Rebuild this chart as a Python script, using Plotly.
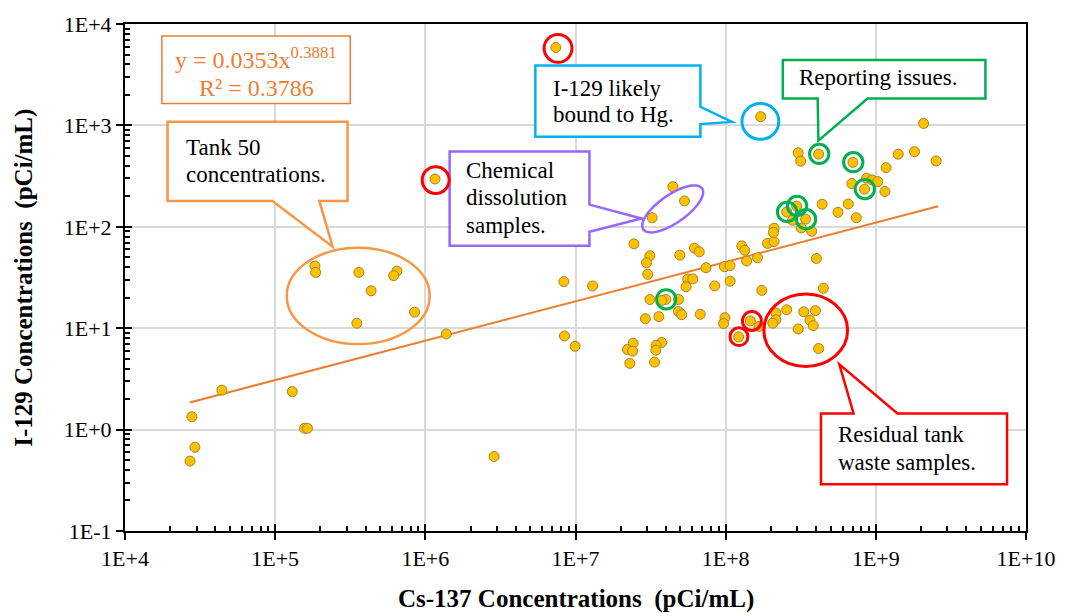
import numpy as np
import plotly.graph_objects as go

# Cs-137 vs I-129 sample concentrations (pCi/mL)
cs137 = [2.79e4, 2.92e4, 2.71e4, 1.57e5, 1.64e5, 4.42e4, 1.30e5, 1.84e5, 1.86e5, 3.61e5,
         3.50e5, 6.47e5, 6.15e5, 4.35e5, 8.48e5, 1.38e6, 8.36e6, 1.30e7, 8.44e6, 9.94e6,
         2.45e7, 3.13e7, 2.97e7, 3.03e7, 4.95e7, 6.20e7, 6.67e7, 7.40e7, 5.60e7, 6.04e7,
         5.45e7, 8.45e7, 3.13e7, 4.00e7, 3.76e7, 4.85e7, 4.85e7, 5.10e7, 6.77e7, 2.92e7,
         3.59e7, 2.42e7, 2.22e7, 2.40e7, 3.75e7, 3.44e7, 3.43e7, 2.30e7, 3.36e7, 4.45e7,
         5.32e7, 3.24e7, 7.40e6, 1.16e6, 2.87e6, 9.80e7, 1.07e8, 1.07e8, 1.74e8, 9.89e7,
         9.69e7, 1.28e8, 1.34e8, 1.38e8, 1.63e8, 1.90e8, 2.10e8, 2.10e8, 2.08e8, 1.46e8,
         1.22e8, 1.67e8, 2.16e8, 2.16e8, 2.06e8, 2.55e8, 3.31e8, 3.96e8, 3.64e8, 3.83e8,
         3.04e8, 4.16e8, 4.02e8, 4.47e8, 3.74e8, 2.55e8, 2.97e8, 2.79e8, 3.41e8, 3.19e8,
         4.39e8, 5.60e8, 6.55e8, 7.41e8, 6.92e8, 8.67e8, 9.46e8, 1.03e9, 8.41e8, 1.15e9,
         1.17e9, 7.04e8, 3.04e8, 3.16e8, 4.16e8, 1.41e9, 1.81e9, 2.08e9, 2.52e9, 1.71e8]
i129 = [1.34, 0.670, 0.489, 1.03, 1.03, 2.45, 2.37, 41.0, 35.5, 35.5,
        11.2, 36.6, 33.0, 23.4, 14.4, 8.77, 28.8, 26.1, 8.38, 6.64,
        67.9, 51.8, 44.2, 34.0, 52.6, 61.6, 56.7, 39.5, 30.6, 30.6,
        25.6, 26.1, 19.2, 19.2, 18.8, 19.2, 14.6, 13.6, 13.7, 12.4,
        13.0, 7.11, 6.17, 5.94, 7.22, 6.80, 6.07, 4.50, 4.63, 249,
        180, 123, 5870, 296, 0.543, 40.4, 41.5, 29.1, 23.6, 12.7,
        11.1, 64.9, 58.6, 46.0, 49.5, 68.6, 71.5, 96.7, 88.0, 11.8,
        8.20, 10.4, 14.1, 12.1, 11.2, 15.2, 14.5, 14.9, 12.0, 10.6,
        9.82, 6.31, 48.7, 24.8, 90.4, 140, 160, 116, 119, 97.4,
        167, 139, 168, 123, 267, 302, 289, 279, 235, 223,
        383, 432, 537, 444, 521, 520, 550, 1045, 446, 1218]

# Power-law fit y = a * x^b
fit_a = 0.0353
fit_b = 0.3881
fit_r2 = 0.3786
fit_x_start = 2.7e4
fit_x_end = 2.6e9

x_tickvals = [1e4, 1e5, 1e6, 1e7, 1e8, 1e9, 1e10]
x_ticktext = ["1E+4", "1E+5", "1E+6", "1E+7", "1E+8", "1E+9", "1E+10"]
y_tickvals = [1e-1, 1e0, 1e1, 1e2, 1e3, 1e4]
y_ticktext = ["1E-1", "1E+0", "1E+1", "1E+2", "1E+3", "1E+4"]

FONT = "Liberation Serif, Times New Roman, serif"
ORANGE = "#ED7D31"
W_FIG, H_FIG = 1067, 616
L, T, W, H = 125, 21, 904, 510


def fx(p):
    return (p - L) / W


def fy(p):
    return (T + H - p) / H


def poly_path(pts):
    s = "M " + " L ".join(f"{fx(x):.5f},{fy(y):.5f}" for x, y in pts)
    return s + " Z"


def minor_positions(lo, hi):
    return [k * 10.0 ** e for e in range(lo, hi) for k in range(2, 10)]


fig = go.Figure()

fit_x = np.logspace(np.log10(fit_x_start), np.log10(fit_x_end), 60)
fit_y = fit_a * fit_x ** fit_b
fig.add_trace(go.Scatter(x=fit_x, y=fit_y, mode="lines",
                         line=dict(color=ORANGE, width=2), hoverinfo="skip",
                         showlegend=False))
fig.add_trace(go.Scatter(x=cs137, y=i129, mode="markers",
                         marker=dict(size=10, color="#FFC000",
                                     line=dict(color="#A08528", width=1)),
                         showlegend=False))
# helper trace so the inner tick axes are drawn
fig.add_trace(go.Scatter(x=[1e5], y=[1], xaxis="x2", yaxis="y2", mode="markers",
                         marker=dict(opacity=0), hoverinfo="skip", showlegend=False))


def axis_style(minor_vals):
    return dict(type="log", showline=True, linecolor="black", linewidth=2,
                mirror=True, showgrid=True, gridcolor="#D9D9D9", gridwidth=1.5,
                zeroline=False, ticks="outside", ticklen=7, tickwidth=2,
                tickcolor="black",
                tickfont=dict(family=FONT, size=22, color="black"),
                minor=dict(tickmode="array", tickvals=minor_vals, ticks="inside",
                           ticklen=5, tickwidth=1.5, tickcolor="black",
                           showgrid=False))


fig.update_layout(
    width=W_FIG, height=H_FIG,
    margin=dict(l=L, r=W_FIG - L - W, t=T, b=H_FIG - T - H),
    paper_bgcolor="white", plot_bgcolor="white",
    xaxis=dict(range=[4, 10], tickvals=x_tickvals, ticktext=x_ticktext,
               **axis_style(minor_positions(4, 10))),
    yaxis=dict(range=[-1, 4], tickvals=y_tickvals, ticktext=y_ticktext,
               **axis_style(minor_positions(-1, 4))),
    xaxis2=dict(type="log", range=[4, 10], overlaying="x", anchor="y", side="bottom",
                tickvals=x_tickvals, ticks="inside", ticklen=7, tickwidth=2,
                tickcolor="black", showticklabels=False, showgrid=False,
                showline=False, zeroline=False),
    yaxis2=dict(type="log", range=[-1, 4], overlaying="y", anchor="x", side="left",
                tickvals=y_tickvals, ticks="inside", ticklen=7, tickwidth=2,
                tickcolor="black", showticklabels=False, showgrid=False,
                showline=False, zeroline=False),
    showlegend=False,
)

shapes = []

# fit equation box
shapes.append(dict(type="rect", xref="paper", yref="paper",
                   x0=fx(162), x1=fx(351), y0=fy(101), y1=fy(33),
                   line=dict(color=ORANGE, width=1.5), fillcolor="white", layer="above"))

# callout bubbles
callouts = [
    ("#F79646", [(167.7, 119.3), (348.3, 119.3), (348.3, 199), (320, 199),
                 (333.3, 245), (273, 199), (167.7, 199)]),
    ("#9966FF", [(450.7, 149.3), (591, 149.3), (591, 202.7), (643.3, 216.7),
                 (591, 230), (591, 244), (450.7, 244)]),
    ("#00B0F0", [(536.7, 62.7), (702.3, 62.7), (702.3, 104.3), (734, 119.5),
                 (702.3, 121.7), (702.3, 134.3), (536.7, 134.3)]),
    ("#00B050", [(785, 57.3), (988.3, 57.3), (988.3, 96), (870, 96),
                 (820.7, 138.3), (820, 96), (785, 96)]),
    ("#FF0000", [(823.3, 412.7), (856, 412.7), (841.7, 363.3), (900, 412.7),
                 (1010, 412.7), (1010, 484), (823.3, 484)]),
]
for color, pts in callouts:
    shapes.append(dict(type="path", xref="paper", yref="paper", path=poly_path(pts),
                       line=dict(color=color, width=2.5), fillcolor="white",
                       layer="above"))


def ring(cx, cy, rx, ry, color, width=3):
    return dict(type="circle", xref="paper", yref="paper",
                x0=fx(cx - rx), x1=fx(cx + rx), y0=fy(cy + ry), y1=fy(cy - ry),
                line=dict(color=color, width=width), layer="above")


# group outlines
shapes.append(ring(359, 294.5, 71.7, 48.5, "#F79646", 2.5))
shapes.append(ring(808, 329, 42, 36.5, "#FF0000", 3))
shapes.append(ring(762.5, 119, 18.5, 18, "#00B0F0", 3))
for cx, cy, r in [(559.5, 45.5, 14), (436.7, 178, 13.5), (754, 319.7, 9.5),
                  (741, 335.5, 9)]:
    shapes.append(ring(cx, cy, r, r, "#FF0000", 3))
for cx, cy in [(821.5, 151.7), (855.7, 160), (867.3, 187), (789.3, 210),
               (799.3, 204), (808.3, 217.3), (668, 298)]:
    shapes.append(ring(cx, cy, 9.7, 9.7, "#00B050", 3))

# tilted ellipse around the chemical dissolution samples
th = np.radians(-35)
tt = np.linspace(0, 2 * np.pi, 73)
ex = 674.5 + 36 * np.cos(tt) * np.cos(th) - 14 * np.sin(tt) * np.sin(th)
ey = 207 + 36 * np.cos(tt) * np.sin(th) + 14 * np.sin(tt) * np.cos(th)
shapes.append(dict(type="path", xref="paper", yref="paper",
                   path=poly_path(list(zip(ex, ey))),
                   line=dict(color="#9966FF", width=2.5), layer="above"))

fig.update_layout(shapes=shapes)

annotations = []


def text_line(txt, x, baseline, size=23, color="black", anchor="left"):
    annotations.append(dict(
        text=txt, xref="paper", yref="paper",
        x=fx(x - 2 if anchor == "left" else x), y=fy(baseline - 0.32 * size),
        xanchor=anchor, yanchor="middle", showarrow=False,
        font=dict(family=FONT, size=size, color=color)))


text_line(f"y = {fit_a}x<sup>{fit_b}</sup>", 256.5, 63, 24, ORANGE, "center")
text_line(f"R² = {fit_r2}", 256.5, 92.7, 24, ORANGE, "center")

text_line("Tank 50", 185.7, 153)
text_line("concentrations.", 185.7, 180)
text_line("Chemical", 467.3, 175.7)
text_line("dissolution", 467.3, 203)
text_line("samples.", 467.3, 231)
text_line("I-129 likely", 554.3, 93)
text_line("bound to Hg.", 554.3, 119)
text_line("Reporting issues.", 801.7, 81.7)
text_line("Residual tank", 840.7, 441.7)
text_line("waste samples.", 840.7, 469)

# axis titles
annotations.append(dict(text="<b>Cs-137 Concentrations\u00a0 (pCi/mL)</b>",
                        xref="paper", yref="paper", x=fx(578), y=fy(599),
                        xanchor="center", yanchor="middle", showarrow=False,
                        font=dict(family=FONT, size=25, color="black")))
annotations.append(dict(text="<b>I-129 Concentrations\u00a0 (pCi/mL)</b>",
                        xref="paper", yref="paper", x=fx(23), y=fy(276),
                        xanchor="center", yanchor="middle", showarrow=False,
                        textangle=-90,
                        font=dict(family=FONT, size=25, color="black")))

fig.update_layout(annotations=annotations)

fig.write_html("out.html")
